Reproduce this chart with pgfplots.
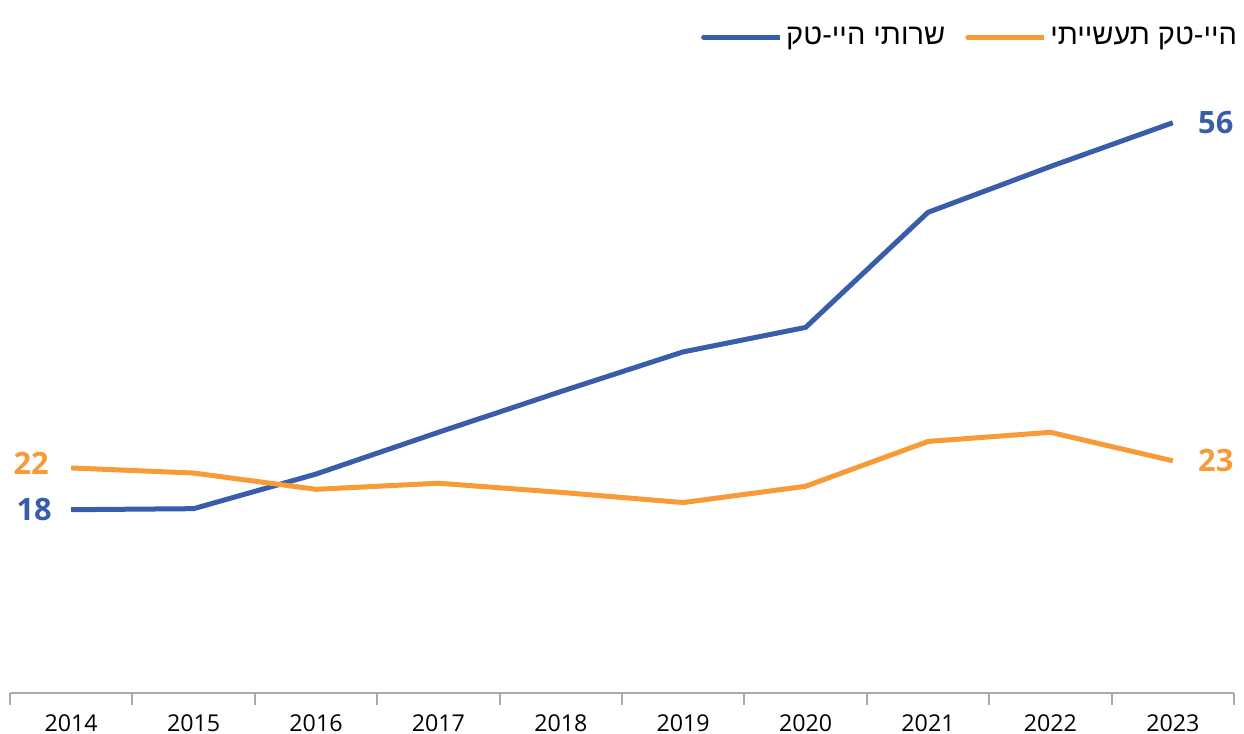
\documentclass[border=0pt]{standalone}
\usepackage{pgfplots}
\pgfplotsset{compat=1.18}
\usepackage{fontspec}
\setmainfont{Open Sans}
\newfontfamily\hebfont[Script=Hebrew]{Liberation Sans}
\TeXXeTstate=1
\definecolor{cblue}{RGB}{58,93,171}
\definecolor{corange}{RGB}{247,154,56}
\definecolor{axgray}{RGB}{170,170,170}
\begin{document}
\begin{tikzpicture}
\path[use as bounding box] (0,0) rectangle (622pt,367pt);
\begin{axis}[
  at={(5pt,20.5pt)}, anchor=south west,
  scale only axis, width=612pt, height=305.5pt,
  xmin=-0.5, xmax=9.5, ymin=0, ymax=60,
  axis x line*=bottom, axis y line=none,
  x axis line style={axgray, line width=1pt, -},
  xtick={0,...,9},
  xticklabels={2014,2015,2016,2017,2018,2019,2020,2021,2022,2023},
  major tick style={draw=none},
  minor xtick={-0.5,0.5,...,9.5},
  minor tick length=6pt, tick align=outside,
  minor tick style={axgray, line width=1pt},
  xticklabel style={font=\fontsize{11.6pt}{14pt}\selectfont, yshift=-3pt},
  clip=false,
  legend columns=2,
  legend style={at={(1.011,1.104)}, anchor=north east, draw=none, fill=none,
    font=\hebfont\fontsize{14.5pt}{16pt}\selectfont,
    /tikz/every even column/.append style={column sep=8pt}},
  legend image code/.code={\draw[#1, line width=2.6pt, line cap=round] (0pt,0pt) -- (34pt,0pt);\path (0pt,0pt) -- (38pt,0pt);},
]
\addplot[cblue, line width=2.5pt, line join=round] coordinates {
 (0,18) (1,18.1) (2,21.5) (3,25.6) (4,29.6) (5,33.5) (6,35.9) (7,47.2) (8,51.7) (9,56)};
\addlegendentry{\beginR שרותי היי-טק\endR}
\addplot[corange, line width=2.5pt, line join=round] coordinates {
 (0,22.1) (1,21.6) (2,20.0) (3,20.6) (4,19.7) (5,18.7) (6,20.3) (7,24.7) (8,25.6) (9,22.8)};
\addlegendentry{\beginR היי-טק תעשייתי\endR}
\node[anchor=east, inner sep=0pt, text=cblue, font=\bfseries\fontsize{15.4pt}{17pt}\selectfont, xshift=-9.5pt] at (axis cs:0,18) {18};
\node[anchor=east, inner sep=0pt, text=corange, font=\bfseries\fontsize{15.4pt}{17pt}\selectfont, xshift=-11pt, yshift=2.5pt] at (axis cs:0,22.1) {22};
\node[anchor=west, inner sep=0pt, text=cblue, font=\bfseries\fontsize{15.4pt}{17pt}\selectfont, xshift=12.5pt] at (axis cs:9,56) {56};
\node[anchor=west, inner sep=0pt, text=corange, font=\bfseries\fontsize{15.4pt}{17pt}\selectfont, xshift=12.5pt] at (axis cs:9,22.8) {23};
\end{axis}
\end{tikzpicture}
\end{document}
